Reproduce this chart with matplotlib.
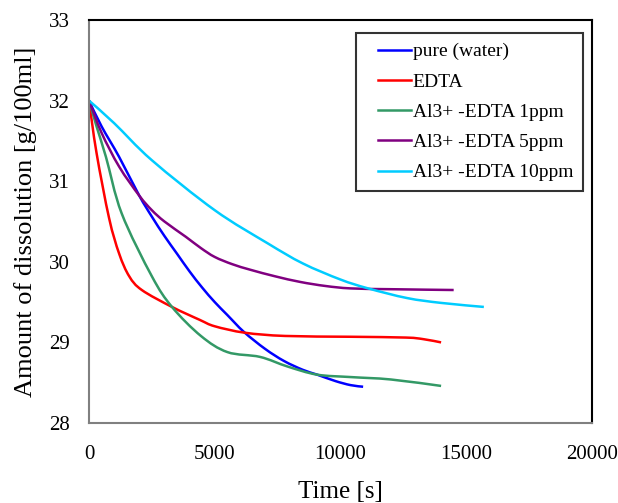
import matplotlib
matplotlib.use("Agg")
import numpy as np
import matplotlib.pyplot as plt
from matplotlib.path import Path
from matplotlib.patches import PathPatch
from matplotlib.lines import Line2D
from matplotlib.legend_handler import HandlerLine2D

plt.rcParams['font.family'] = ['Liberation Serif', 'DejaVu Serif']

# Data
t_water = [0, 500, 1200, 2000, 2500, 3000, 3500, 4000, 4500, 5000, 5500, 6160, 7000, 7750, 8500, 9070, 9800, 10400, 10900]
v_water = [32.0, 31.68, 31.30, 30.82, 30.56, 30.32, 30.10, 29.88, 29.68, 29.50, 29.34, 29.13, 28.92, 28.77, 28.66, 28.60, 28.52, 28.47, 28.45]

t_edta = [0, 300, 800, 1200, 1600, 2100, 3300, 4400, 5000, 6200, 7800, 10400, 12600, 13300, 14000]
v_edta = [32.0, 31.35, 30.54, 30.10, 29.82, 29.65, 29.44, 29.28, 29.20, 29.12, 29.08, 29.07, 29.06, 29.04, 29.00]

t_1ppm = [0, 300, 675, 1300, 2500, 3300, 4450, 5500, 6800, 7900, 9070, 10400, 12000, 14000]
v_1ppm = [32.0, 31.68, 31.30, 30.60, 29.82, 29.44, 29.08, 28.88, 28.82, 28.70, 28.60, 28.57, 28.54, 28.46]

t_5ppm = [0, 500, 1200, 2000, 2500, 3000, 3850, 4450, 5000, 5700, 6430, 7400, 8400, 9400, 10400, 12000, 14500]
v_5ppm = [32.0, 31.60, 31.18, 30.82, 30.64, 30.50, 30.31, 30.17, 30.06, 29.97, 29.90, 29.82, 29.75, 29.70, 29.67, 29.66, 29.65]

t_10ppm = [0, 1000, 2500, 5000, 7100, 8500, 10000, 11100, 12650, 14000, 15700]
v_10ppm = [32.0, 31.72, 31.26, 30.64, 30.23, 29.98, 29.78, 29.67, 29.55, 29.49, 29.44]

labels = ['pure (water)', 'EDTA', 'Al3+ -EDTA 1ppm', 'Al3+ -EDTA 5ppm', 'Al3+ -EDTA 10ppm']
colors = ['#0000FF', '#FF0000', '#339966', '#800080', '#00CCFF']
series = [(t_water, v_water), (t_edta, v_edta), (t_1ppm, v_1ppm),
          (t_5ppm, v_5ppm), (t_10ppm, v_10ppm)]

x_ticks = [0, 5000, 10000, 15000, 20000]
y_ticks = [28, 29, 30, 31, 32, 33]


def smooth_path(xs, ys):
    """Excel-like smoothed line: cubic Bezier segments through the data points."""
    pts = list(zip(xs, ys))
    n = len(pts)
    verts = [pts[0]]
    codes = [Path.MOVETO]
    for i in range(n - 1):
        p0 = pts[i - 1] if i > 0 else pts[i]
        p1 = pts[i]
        p2 = pts[i + 1]
        p3 = pts[i + 2] if i + 2 < n else pts[i + 1]
        c1 = (p1[0] + (p2[0] - p0[0]) / 6.0, p1[1] + (p2[1] - p0[1]) / 6.0)
        c2 = (p2[0] - (p3[0] - p1[0]) / 6.0, p2[1] - (p3[1] - p1[1]) / 6.0)
        verts += [c1, c2, p2]
        codes += [Path.CURVE4] * 3
    return Path(verts, codes)


class ShiftedLineHandler(HandlerLine2D):
    def get_xdata(self, legend, xdescent, ydescent, width, height, fontsize):
        x0 = -xdescent + width * 0.27
        x1 = -xdescent + width
        return np.array([x0, x1]), np.array([(x0 + x1) / 2])


fig = plt.figure(figsize=(6.18, 5.03), dpi=100)
ax = fig.add_axes([89/618, 1-423/503, (592-89)/618, (423-20)/503])

handles = []
for (t, v), lab, c in zip(series, labels, colors):
    patch = PathPatch(smooth_path(t, v), facecolor='none', edgecolor=c,
                      lw=1.8, capstyle='butt', joinstyle='round')
    ax.add_patch(patch)
    handles.append(Line2D([], [], color=c, lw=1.8, label=lab))

ax.set_xlim(0, 20000)
ax.set_ylim(28, 33)
ax.set_xticks(x_ticks)
ax.set_yticks(y_ticks)
ax.tick_params(axis='both', length=0, labelsize=15)
ax.tick_params(axis='x', pad=16)
ax.tick_params(axis='y', pad=14)

ax.spines['left'].set_color('#808080')
ax.spines['bottom'].set_color('#808080')
ax.spines['top'].set_color('black')
ax.spines['right'].set_color('black')
for s in ax.spines.values():
    s.set_linewidth(1.5)

ax.set_xlabel('Time [s]', fontsize=18, labelpad=12)
ax.set_ylabel('Amount of dissolution [g/100ml]', fontsize=19, labelpad=8)

leg = ax.legend(handles=handles, loc='upper right', bbox_to_anchor=(583/618, 1-33/503),
                bbox_transform=fig.transFigure, fontsize=14, frameon=True,
                fancybox=False, edgecolor='black', handlelength=2.3,
                handletextpad=0.1, labelspacing=0.65, borderpad=0.5,
                borderaxespad=0,
                handler_map={Line2D: ShiftedLineHandler()})
leg.get_frame().set_linewidth(1.5)

fig.savefig('out.png', dpi=100)
